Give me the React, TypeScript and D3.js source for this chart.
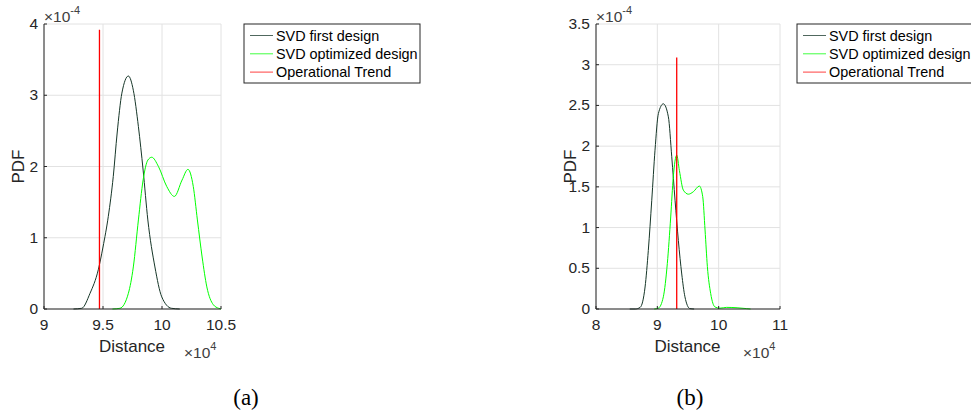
import React from 'react';
import * as d3 from 'd3';

type Pt = [number, number];

const SERIES_NAMES = ['SVD first design', 'SVD optimized design', 'Operational Trend'];
const SERIES_COLORS = ['#163628', '#00ff00', '#ff0000'];

// panel (a): distance in units of 1e4, pdf in units of 1e-4
const firstDesignA: Pt[] = [
  [9.25, 0], [9.32, 0.01], [9.39, 0.22], [9.46, 0.55], [9.5, 0.87], [9.545, 1.3],
  [9.587, 1.86], [9.62, 2.47], [9.66, 3.03], [9.715, 3.27], [9.757, 3.07],
  [9.8, 2.56], [9.84, 1.95], [9.88, 1.25], [9.94, 0.59], [9.998, 0.17],
  [10.08, 0.01], [10.15, 0],
];
const optimizedDesignA: Pt[] = [
  [9.58, 0], [9.644, 0.01], [9.715, 0.22], [9.757, 0.59], [9.8, 1.25], [9.84, 1.81],
  [9.88, 2.09], [9.913, 2.13], [9.97, 2.0], [10.04, 1.72], [10.105, 1.58],
  [10.17, 1.81], [10.22, 1.96], [10.265, 1.72], [10.3, 1.25], [10.34, 0.73],
  [10.38, 0.31], [10.435, 0.06], [10.48, 0.01], [10.5, 0],
];
const trendA: Pt[] = [[9.47, 0], [9.47, 3.92]];

// panel (b)
const firstDesignB: Pt[] = [
  [8.55, 0], [8.64, 0.0], [8.72, 0.02], [8.8, 0.27], [8.853, 0.72], [8.909, 1.335],
  [8.962, 1.95], [9.017, 2.4], [9.098, 2.52], [9.18, 2.36], [9.235, 1.87],
  [9.289, 1.335], [9.343, 0.84], [9.398, 0.43], [9.45, 0.15], [9.53, 0.005],
  [9.6, 0],
];
const optimizedDesignB: Pt[] = [
  [8.95, 0], [9.017, 0.01], [9.098, 0.15], [9.163, 0.56], [9.218, 1.13], [9.26, 1.62],
  [9.316, 1.89], [9.36, 1.7], [9.424, 1.46], [9.506, 1.41], [9.587, 1.44],
  [9.685, 1.51], [9.74, 1.38], [9.778, 0.97], [9.816, 0.52], [9.87, 0.19],
  [9.94, 0.025], [10.02, 0.01], [10.13, 0.02], [10.3, 0.015], [10.45, 0.005],
  [10.52, 0],
];
const trendB: Pt[] = [[9.316, 0], [9.316, 3.09]];

const xTicksA = [9, 9.5, 10, 10.5];
const yTicksA = [0, 1, 2, 3, 4];
const xTicksB = [8, 9, 10, 11];
const yTicksB = [0, 0.5, 1, 1.5, 2, 2.5, 3, 3.5];

const FONT = '"Liberation Sans", Arial, Helvetica, sans-serif';
const AXIS = '#262626';
const GRID = '#e2e2e2';

interface PanelProps {
  left: number;
  right: number;
  top: number;
  bottom: number;
  xTicks: number[];
  yTicks: number[];
  series: Pt[][];
  legendX: number;
  caption: string;
  captionX: number;
}

function Panel({ left, right, top, bottom, xTicks, yTicks, series, legendX, caption, captionX }: PanelProps) {
  const x = d3.scaleLinear().domain(d3.extent(xTicks) as [number, number]).range([left, right]);
  const y = d3.scaleLinear().domain(d3.extent(yTicks) as [number, number]).range([bottom, top]);
  const smooth = d3.line<Pt>().x(d => x(d[0])).y(d => y(d[1])).curve(d3.curveMonotoneX);
  const straight = d3.line<Pt>().x(d => x(d[0])).y(d => y(d[1]));

  return (
    <g fontFamily={FONT}>
      {/* grid */}
      {xTicks.map(t => (
        <line key={'gx' + t} x1={x(t)} x2={x(t)} y1={top} y2={bottom} stroke={GRID} />
      ))}
      {yTicks.map(t => (
        <line key={'gy' + t} x1={left} x2={right} y1={y(t)} y2={y(t)} stroke={GRID} />
      ))}

      {/* curves */}
      {series.map((s, i) => (
        <path
          key={i}
          d={(i === 2 ? straight : smooth)(s) || ''}
          fill="none"
          stroke={SERIES_COLORS[i]}
          strokeWidth={i === 2 ? 1.3 : 1}
        />
      ))}

      {/* axes */}
      <line x1={left} x2={left} y1={top} y2={bottom} stroke={AXIS} />
      <line x1={left} x2={right} y1={bottom} y2={bottom} stroke={AXIS} />
      {xTicks.map(t => (
        <g key={'tx' + t}>
          <line x1={x(t)} x2={x(t)} y1={bottom} y2={bottom - 3} stroke={AXIS} />
          <text x={x(t)} y={bottom + 21} textAnchor="middle" fontSize={15.5} fill={AXIS}>
            {String(t)}
          </text>
        </g>
      ))}
      {yTicks.map(t => (
        <g key={'ty' + t}>
          <line x1={left} x2={left + 3} y1={y(t)} y2={y(t)} stroke={AXIS} />
          <text x={left - 6} y={y(t) + 5} textAnchor="end" fontSize={15.5} fill={AXIS}>
            {String(t)}
          </text>
        </g>
      ))}

      {/* exponents */}
      <text x={left} y={21.5} fontSize={15.5} fill="#404040">
        ×10<tspan dy={-8} fontSize={11}>-4</tspan>
      </text>
      <text x={right - 37} y={357.5} fontSize={15.5} fill="#404040">
        ×10<tspan dy={-8} fontSize={11}>4</tspan>
      </text>

      {/* axis labels */}
      <text x={(left + right) / 2 - 0.5} y={352} textAnchor="middle" fontSize={17} fill={AXIS}>
        Distance
      </text>
      <text
        transform={`translate(${left - 20},${(top + bottom) / 2}) rotate(-90)`}
        textAnchor="middle"
        fontSize={17}
        fill={AXIS}
      >
        PDF
      </text>

      {/* legend */}
      <rect x={legendX} y={24} width={176} height={59} fill="#fff" stroke={AXIS} />
      {SERIES_NAMES.map((name, i) => (
        <g key={name}>
          <line
            x1={legendX + 6}
            x2={legendX + 29}
            y1={35.5 + i * 18.3}
            y2={35.5 + i * 18.3}
            stroke={SERIES_COLORS[i]}
            strokeOpacity={0.75}
          />
          <text x={legendX + 32} y={40.5 + i * 18.3} fontSize={14.4} fill="#000">
            {name}
          </text>
        </g>
      ))}

      {/* caption */}
      <text x={captionX} y={405} textAnchor="middle" fontSize={23} fontFamily='"Liberation Serif", "Times New Roman", serif' fill="#000">
        {caption}
      </text>
    </g>
  );
}

export default function App() {
  return (
    <svg width={971} height={412} style={{ position: 'absolute', left: 0, top: 0, background: '#fff' }}>
      <Panel
        left={44}
        right={221}
        top={24}
        bottom={309}
        xTicks={xTicksA}
        yTicks={yTicksA}
        series={[firstDesignA, optimizedDesignA, trendA]}
        legendX={244}
        caption="(a)"
        captionX={246}
      />
      <Panel
        left={596}
        right={780}
        top={24}
        bottom={309}
        xTicks={xTicksB}
        yTicks={yTicksB}
        series={[firstDesignB, optimizedDesignB, trendB]}
        legendX={797}
        caption="(b)"
        captionX={690}
      />
    </svg>
  );
}
